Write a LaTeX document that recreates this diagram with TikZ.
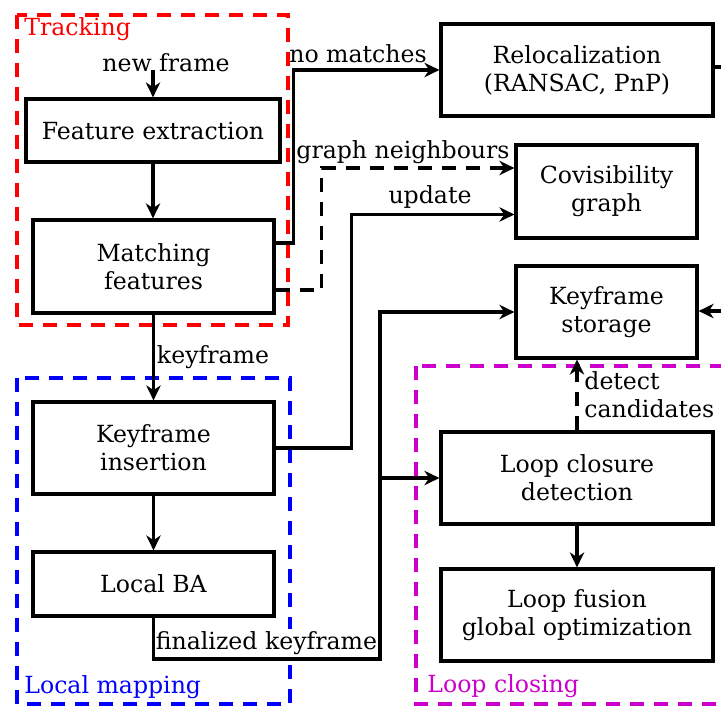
\documentclass[tikz,border=0pt]{standalone}
\usepackage{fontspec}
\setmainfont{DejaVu Serif}
\usetikzlibrary{arrows.meta}
\definecolor{loopmag}{rgb}{0.8,0,0.8}
\begin{document}
\begin{tikzpicture}[x=0.5pt,y=-0.5pt,
  font=\fontsize{11.8}{14}\selectfont,
  block/.style={draw, line width=1.6pt, align=center, inner sep=0pt},
  flow/.style={line width=1.6pt, -{Stealth[length=7.5pt,width=7.2pt,inset=2.4pt]}},
  plain/.style={line width=1.6pt},
  dashflow/.style={flow, dash pattern=on 7pt off 5pt},
  group/.style={line width=1.6pt, dash pattern=on 7pt off 5pt},
  grouplabel/.style={anchor=base west, inner sep=0pt},
  lbl/.style={anchor=base, inner sep=0pt},
]
\useasboundingbox (0,0) rectangle (721,706);
\clip (0,0) rectangle (721,706);

% thread groups
\draw[group, red] (17,15) rectangle (288,325);
\draw[group, blue] (17,378) rectangle (290,704);
\draw[group, loopmag] (416,366) rectangle (760,704);
\node[grouplabel, red] (ltrk) at (24,36) {Tracking};
\node[grouplabel, blue] (lmap) at (24,693) {Local mapping};
\node[grouplabel, loopmag] (lloop) at (427,692) {Loop closing};

% processing blocks
\node[block, minimum width=127pt, minimum height=31.5pt] (fe) at (153,130.5) {Feature extraction};
\node[block, minimum width=120.5pt, minimum height=46.5pt] (mf) at (153.5,266.5) {Matching\\features};
\node[block, minimum width=136pt, minimum height=46pt] (reloc) at (577,70) {Relocalization\\(RANSAC, PnP)};
\node[block, minimum width=90.5pt, minimum height=46.5pt] (covis) at (606.5,191.5) {Covisibility\\graph};
\node[block, minimum width=90.5pt, minimum height=46pt] (kfs) at (606.5,312) {Keyframe\\storage};
\node[block, minimum width=120.5pt, minimum height=46pt] (kfi) at (153.5,448) {Keyframe\\insertion};
\node[block, minimum width=120.5pt, minimum height=32pt] (lba) at (153.5,584) {Local BA};
\node[block, minimum width=136pt, minimum height=46pt] (lcd) at (577,478) {Loop closure\\detection};
\node[block, minimum width=136pt, minimum height=46pt] (lf) at (577,615) {Loop fusion\\global optimization};

% connector labels
\node[lbl] (tnf) at (166,72) {new frame};
\node[lbl] (tnm) at (358,62) {no matches};
\node[lbl] (tgn) at (403,158) {graph neighbours};
\node[lbl] (tup) at (430,203) {update};
\node[lbl] (tkf) at (213,363) {keyframe};
\node[lbl, fill=white, inner sep=1pt] (tfk) at (266.5,649) {finalized keyframe};
\node[anchor=base west, inner sep=0pt, align=left] (tdc) at (584,417) {detect\\candidates};

% connectors
\coordinate (nf) at (153,70);
\draw[flow] (nf) -- (nf |- fe.north);
\draw[flow] (fe.south) -- (fe.south |- mf.north);
\draw[flow] (mf.south) -- (mf.south |- kfi.north);
\draw[flow] (kfi.south) -- (kfi.south |- lba.north);
\draw[flow] ([yshift=11.75pt]mf.east) -- ++(18,0) |- (reloc.west);
\draw[dashflow] ([yshift=-11.75pt]mf.east) -- ++(46,0) |- ([yshift=11.75pt]covis.west);
\draw[flow] (kfi.east) -- ++(76,0) |- ([yshift=-11.5pt]covis.west);
\coordinate (fk) at (380,659);
\draw[flow] (lba.south) |- (fk) |- (kfs.west);
\draw[flow] (fk |- lcd.west) -- (lcd.west);
\draw[dashflow] (lcd.north) -- (lcd.north |- kfs.south);
\draw[flow] (lcd.south) -- (lf.north);
\coordinate (rx) at (740,67);
\draw[plain] (reloc.east |- rx) -- (rx);
\coordinate (kx) at (740,311);
\draw[flow] (kx) -- (kx -| kfs.east);
\end{tikzpicture}
\end{document}
